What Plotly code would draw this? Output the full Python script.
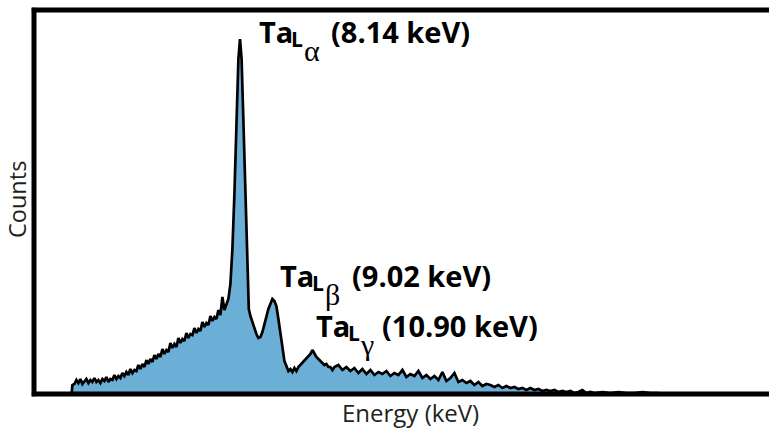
import plotly.graph_objects as go

# Energy (keV) and counts
energy = [3.93, 3.95,
          4.00, 4.05, 4.10, 4.15, 4.20, 4.25, 4.30, 4.35, 4.40, 4.45,
          4.50, 4.55, 4.60, 4.65, 4.70, 4.75, 4.80, 4.85, 4.90, 4.95,
          5.00, 5.05, 5.10, 5.15, 5.20, 5.25, 5.30, 5.35, 5.40, 5.45,
          5.50, 5.55, 5.60, 5.65, 5.70, 5.75, 5.80, 5.85, 5.90, 5.95,
          6.00, 6.05, 6.10, 6.15, 6.20, 6.25, 6.30, 6.35, 6.40, 6.45,
          6.50, 6.55, 6.60, 6.65, 6.70, 6.75, 6.80, 6.85, 6.90, 6.95,
          7.00, 7.05, 7.10, 7.15, 7.20, 7.25, 7.30, 7.35, 7.40, 7.45,
          7.50, 7.55, 7.60, 7.65, 7.70, 7.75, 7.80, 7.85,
          7.9, 7.95, 8.0, 8.05, 8.1, 8.14, 8.18, 8.22, 8.27, 8.32, 8.36,
          8.4, 8.45, 8.5, 8.55, 8.6, 8.65, 8.7, 8.75, 8.8, 8.85, 8.9, 8.95,
          9.0, 9.05, 9.1, 9.15, 9.2, 9.25, 9.3, 9.35, 9.4, 9.45, 9.5,
          9.55, 9.6, 9.65, 9.7, 9.75, 9.8, 9.85, 9.9, 9.95, 10.0,
          10.05, 10.1, 10.15, 10.2, 10.25, 10.3, 10.35, 10.4, 10.45,
          10.5, 10.6, 10.7, 10.8, 10.9, 11.0, 11.1, 11.2, 11.3, 11.4,
          11.5, 11.6, 11.7, 11.8, 11.9, 12.0, 12.1, 12.2, 12.3, 12.4,
          12.5, 12.6, 12.7, 12.8, 12.9, 13.0, 13.1, 13.2, 13.3, 13.4,
          13.5, 13.6, 13.7, 13.8, 13.9, 14.0, 14.1, 14.2, 14.3, 14.4,
          14.5, 14.6, 14.7, 14.8, 14.9, 15.0, 15.1, 15.2, 15.3, 15.4,
          15.5, 15.6, 15.7, 15.8, 15.9, 16.0, 16.1, 16.2, 16.3, 16.4,
          16.5, 16.6, 16.7, 16.8, 16.9, 17.0, 17.2, 17.4, 17.6, 17.8,
          18.0, 18.2, 18.4, 18.6, 18.7]
counts = [0, 9,
          10, 14, 11, 15, 10, 13, 15, 11, 14, 12,
          16, 12, 14, 11, 15, 13, 17, 12, 15, 14,
          19, 15, 18, 16, 21, 18, 22, 19, 25, 21,
          24, 23, 29, 25, 30, 27, 34, 30, 35, 32,
          39, 35, 40, 37, 45, 40, 44, 42, 51, 46,
          50, 47, 56, 51, 55, 53, 61, 56, 60, 59,
          66, 61, 65, 63, 72, 67, 71, 69, 78, 73,
          77, 75, 84, 79, 97, 84, 90, 95,
          110, 145, 200, 280, 335, 355, 335, 280, 200, 120, 85,
          78, 72, 65, 60, 56, 57, 62, 70, 78, 85, 90, 95,
          93, 88, 75, 60, 45, 33, 28, 23, 25, 22, 26,
          23, 27, 29, 31, 33, 36, 38, 40, 44, 40,
          37, 35, 33, 32, 29, 30, 27, 27, 24,
          27, 29, 24, 27, 23, 26, 21, 25, 20, 24,
          19, 22, 20, 23, 18, 21, 19, 24, 17, 20,
          18, 23, 16, 19, 15, 18, 14, 22, 13, 16,
          21, 12, 14, 11, 13, 9, 12, 8, 10, 9,
          7, 9, 6, 8, 6, 7, 5, 6, 4, 6,
          4, 5, 3, 4, 3, 4, 2, 3, 2, 3,
          1, 2, 4, 1, 2, 1, 2, 1, 2, 1,
          1, 2, 1, 1, 0]

# Peak labels: main text, subscript, greek sub-subscript, energy
label_main = ["Ta", "Ta", "Ta"]
label_sub = ["L", "L", "L"]
label_greek = ["α", "β", "γ"]
label_energy = ["(8.14 keV)", "(9.02 keV)", "(10.90 keV)"]

W, H = 769, 428
ML, MR, MT, MB = 34, 0, 10, 34
PW, PH = W - ML - MR, H - MT - MB


def px(x):
    return (x - ML) / PW


def py(y):
    return (H - MB - y) / PH


fig = go.Figure()
fig.add_trace(go.Scatter(
    x=energy, y=counts, mode="lines", fill="tozeroy",
    fillcolor="#6baed6", line=dict(color="black", width=2.7),
    hoverinfo="skip", showlegend=False))

# label placement (pixels): left of "Ta", baseline
lab_left = [259, 280, 316]
lab_base = [43, 287, 337]
greek_dx = [45, 45, 44]
energy_dx = [72, 72, 66]

S_MAIN, S_SUB, S_GREEK = 29, 21, 30


def add_text(text, x, y_center, size, family, bold=True):
    fig.add_annotation(x=px(x - 2), y=py(y_center), xref="paper", yref="paper",
                       text=("<b>" + text + "</b>") if bold else text,
                       showarrow=False, xanchor="left", yanchor="middle",
                       font=dict(family=family, size=size, color="black"))


for i in range(3):
    L, B = lab_left[i], lab_base[i]
    add_text(label_main[i], L, B - 0.388 * S_MAIN, S_MAIN, "Open Sans")
    add_text(label_sub[i], L + 32, B + 4 - 0.388 * S_SUB, S_SUB, "Open Sans")
    add_text(label_greek[i], L + greek_dx[i], B + 18 - 0.3375 * S_GREEK, S_GREEK,
             "Liberation Serif", bold=False)
    add_text(label_energy[i], L + energy_dx[i], B - 0.388 * S_MAIN, S_MAIN, "Open Sans")

# axis titles
fig.add_annotation(x=px(410), y=py(421.5 - 0.388 * 24), xref="paper", yref="paper",
                   text="Energy (keV)", showarrow=False, xanchor="center", yanchor="middle",
                   font=dict(family="Open Sans", size=24, color="#231f20"))
fig.add_annotation(x=px(17), y=py(200), xref="paper", yref="paper",
                   text="Counts", showarrow=False, xanchor="center", yanchor="middle",
                   textangle=-90,
                   font=dict(family="Open Sans", size=23.5, color="#231f20"))

frame = dict(color="black", width=5)
fig.add_shape(type="line", xref="paper", yref="paper", x0=0, x1=0, y0=-0.006, y1=1.006, line=frame)
fig.add_shape(type="line", xref="paper", yref="paper", x0=-0.003, x1=1.05, y0=1, y1=1, line=frame)
fig.add_shape(type="line", xref="paper", yref="paper", x0=-0.003, x1=1.05, y0=0, y1=0, line=frame)

fig.update_layout(
    width=W, height=H,
    margin=dict(l=ML, r=MR, t=MT, b=MB, autoexpand=False),
    plot_bgcolor="white", paper_bgcolor="white",
    xaxis=dict(range=[2.99, 21.365], showgrid=False, zeroline=False, showticklabels=False,
               ticks="", showline=False, automargin=False),
    yaxis=dict(range=[0, 384], showgrid=False, zeroline=False, showticklabels=False,
               ticks="", showline=False, automargin=False),
)

fig.write_html("out.html", config={"displayModeBar": False},
               post_script="document.body.style.margin='0px';")
